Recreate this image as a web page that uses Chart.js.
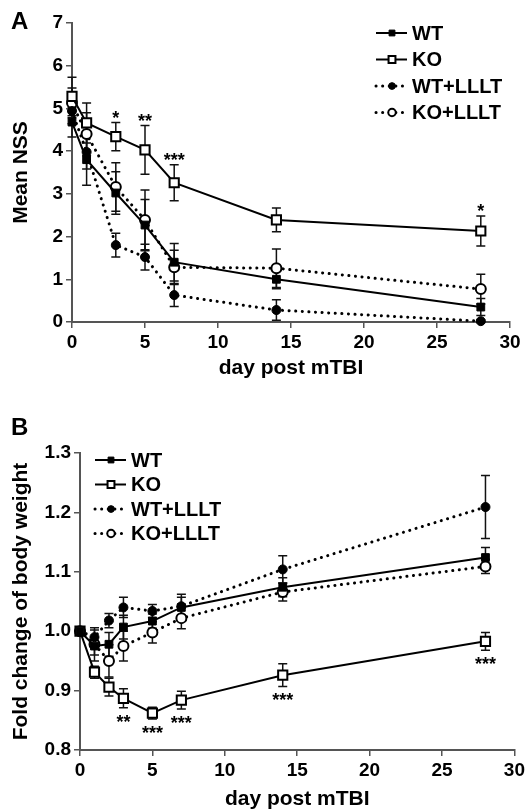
<!DOCTYPE html>
<html>
<head>
<meta charset="utf-8">
<script src="https://cdn.jsdelivr.net/npm/chart.js@4.4.1/dist/chart.umd.min.js"></script>
<style>
body{margin:0;background:#fff;}
#wrap{position:relative;width:528px;height:812px;}
#chartA{position:absolute;left:0;top:0;}
#chartB{position:absolute;left:0;top:400px;}
</style>
</head>
<body>
<div id="wrap">
<canvas id="chartA" width="528" height="400"></canvas>
<canvas id="chartB" width="528" height="412"></canvas>
</div>
<script>
var FONT = '"Liberation Sans", Arial, sans-serif';

// panel A: mean NSS
var daysA = [0, 1, 3, 5, 7, 14, 28];
var wtA      = [4.68, 3.8, 3.02, 2.27, 1.4, 1.0, 0.35];
var wtAErr   = [0.35, 0.6, 0.5, 0.6, 0.44, 0.22, 0.2];
var koA      = [5.28, 4.66, 4.34, 4.03, 3.26, 2.39, 2.13];
var koAErr   = [0.45, 0.47, 0.33, 0.57, 0.42, 0.28, 0.35];
var wtLA     = [4.94, 3.98, 1.8, 1.52, 0.63, 0.28, 0.02];
var wtLAErr  = [0.3, 0.4, 0.28, 0.3, 0.27, 0.24, 0.03];
var koLA     = [5.13, 4.4, 3.16, 2.39, 1.28, 1.26, 0.77];
var koLAErr  = [0.35, 0.5, 0.57, 0.7, 0.4, 0.45, 0.35];
var starDaysA = [3, 5, 7, 28];
var starTextA = ['*', '**', '***', '*'];
var yTicksA = [0, 1, 2, 3, 4, 5, 6, 7];

// panel B: fold change of body weight
var daysB = [0, 1, 2, 3, 5, 7, 14, 28];
var wtB      = [1.0, 0.975, 0.978, 1.007, 1.017, 1.04, 1.074, 1.124];
var wtBErr   = [0, 0.015, 0.02, 0.02, 0.012, 0.022, 0.016, 0.017];
var koB      = [1.0, 0.931, 0.906, 0.887, 0.862, 0.884, 0.926, 0.983];
var koBErr   = [0, 0.01, 0.015, 0.016, 0.01, 0.015, 0.019, 0.015];
var wtLB     = [1.0, 0.99, 1.018, 1.04, 1.034, 1.042, 1.104, 1.209];
var wtLBErr  = [0, 0.012, 0.012, 0.017, 0.011, 0.015, 0.023, 0.053];
var koLB     = [1.0, 0.978, 0.95, 0.975, 0.998, 1.022, 1.066, 1.109];
var koLBErr  = [0, 0.028, 0.027, 0.025, 0.018, 0.018, 0.015, 0.012];
var starDaysB = [3, 5, 7, 14, 28];
var starTextB = ['**', '***', '***', '***', '***'];

var xTicks = [0, 5, 10, 15, 20, 25, 30];
var groups = ['WT', 'KO', 'WT+LLLT', 'KO+LLLT'];

function series(label, days, vals, errs, filled, shape, dotted) {
    return {
        label: label,
        data: days.map(function (d, i) { return {x: d, y: vals[i]}; }),
        errors: errs,
        borderColor: '#000',
        borderWidth: dotted ? 3 : 2,
        borderDash: dotted ? [0.1, 6.5] : [],
        borderCapStyle: dotted ? 'round' : 'butt',
        pointStyle: shape,
        pointRadius: shape == 'rect' ? (filled ? 5.5 : 6.5) : (filled ? 4.5 : 5),
        pointBackgroundColor: filled ? '#000' : '#fff',
        pointBorderColor: '#000',
        pointBorderWidth: filled ? 1 : 2,
        pointHoverRadius: 0,
        tension: 0,
        clip: false
    };
}

var errorBars = {
    id: 'errorBars',
    beforeDatasetsDraw: function (chart) {
        var ctx = chart.ctx, xs = chart.scales.x, ys = chart.scales.y;
        ctx.save();
        ctx.strokeStyle = '#111';
        ctx.lineWidth = 1.5;
        chart.data.datasets.forEach(function (ds) {
            ds.data.forEach(function (p, i) {
                var e = ds.errors[i];
                if (!e) return;
                var x = xs.getPixelForValue(p.x);
                var y1 = ys.getPixelForValue(p.y + e), y2 = ys.getPixelForValue(p.y - e);
                ctx.beginPath();
                ctx.moveTo(x, y1); ctx.lineTo(x, y2);
                ctx.moveTo(x - 4.5, y1); ctx.lineTo(x + 4.5, y1);
                ctx.moveTo(x - 4.5, y2); ctx.lineTo(x + 4.5, y2);
                ctx.stroke();
            });
        });
        ctx.restore();
    }
};

var decorations = {
    id: 'decorations',
    afterDraw: function (chart, args, o) {
        var ctx = chart.ctx, xs = chart.scales.x, ys = chart.scales.y;
        ctx.save();
        ctx.fillStyle = '#000';
        ctx.textBaseline = 'middle';
        ctx.textAlign = 'left';
        ctx.font = 'bold 24px ' + FONT;
        ctx.fillText(o.letter, o.letterX, o.letterY);

        // legend: line + marker + label
        chart.data.datasets.forEach(function (ds, i) {
            var y = o.legY + i * o.legGap;
            ctx.strokeStyle = '#000';
            ctx.lineWidth = ds.borderWidth;
            ctx.setLineDash(ds.borderDash);
            ctx.lineCap = ds.borderCapStyle;
            ctx.beginPath();
            ctx.moveTo(o.legX, y);
            ctx.lineTo(o.legX + 31, y);
            ctx.stroke();
            ctx.setLineDash([]);
            ctx.lineCap = 'butt';
            ctx.fillStyle = ds.pointBackgroundColor;
            ctx.lineWidth = ds.pointBorderWidth;
            Chart.helpers.drawPoint(ctx, {pointStyle: ds.pointStyle, radius: ds.pointRadius * 0.75,
                borderWidth: ds.pointBorderWidth, rotation: 0}, o.legX + 16, y);
            ctx.fillStyle = '#000';
            ctx.font = 'bold 20px ' + FONT;
            ctx.fillText(ds.label, o.legX + 36, y + 1);
        });

        // significance stars on the KO series
        var ko = chart.data.datasets[1];
        ctx.textAlign = 'center';
        ctx.textBaseline = 'alphabetic';
        ctx.font = 'bold 18px ' + FONT;
        o.starDays.forEach(function (d, k) {
            var i = ko.data.findIndex(function (p) { return p.x == d; });
            var p = ko.data[i];
            var x = xs.getPixelForValue(p.x);
            var edge = ys.getPixelForValue(p.y + o.starDir * ko.errors[i]);
            var c = edge - o.starDir * o.starGap;
            ctx.fillText(o.starText[k], x, c + 10);
        });
        ctx.restore();
    }
};

function axes(yMin, yMax, yStep, yTitle, yFmt, xTitlePad, yWidth, xHeight) {
    var tickFont = {family: FONT, size: 19, weight: 'bold'};
    var titleFont = {family: FONT, size: 21, weight: 'bold'};
    return {
        x: {
            type: 'linear', min: 0, max: 30,
            afterBuildTicks: function (s) { s.ticks = xTicks.map(function (v) { return {value: v}; }); },
            afterFit: function (s) { s.height = xHeight; },
            ticks: {font: tickFont, color: '#000', padding: 3},
            grid: {drawOnChartArea: false, drawTicks: true, tickLength: 6, color: '#555', lineWidth: 1.5},
            border: {display: true, color: '#555', width: 2},
            title: {display: true, text: 'day post mTBI', font: titleFont, color: '#000',
                padding: {top: 0, bottom: xTitlePad}}
        },
        y: {
            type: 'linear', min: yMin, max: yMax,
            ticks: {stepSize: yStep, font: tickFont, color: '#000', padding: 3, callback: yFmt},
            afterFit: function (s) { s.width = yWidth; },
            grid: {drawOnChartArea: false, drawTicks: true, tickLength: 6, color: '#555', lineWidth: 1.5},
            border: {display: true, color: '#555', width: 2},
            title: {display: true, text: yTitle, font: titleFont, color: '#000',
                padding: {top: 9, bottom: 0}}
        }
    };
}

new Chart(document.getElementById('chartA'), {
    type: 'line',
    data: {
        datasets: [
            series(groups[0], daysA, wtA, wtAErr, true, 'rect', false),
            series(groups[1], daysA, koA, koAErr, false, 'rect', false),
            series(groups[2], daysA, wtLA, wtLAErr, true, 'circle', true),
            series(groups[3], daysA, koLA, koLAErr, false, 'circle', true)
        ]
    },
    options: {
        responsive: false,
        animation: false,
        devicePixelRatio: 1,
        layout: {padding: {left: 0, right: 18, top: 23, bottom: 0}},
        scales: axes(yTicksA[0], yTicksA[yTicksA.length - 1], 1, 'Mean NSS',
            function (v) { return v; }, 19, 72, 78),
        plugins: {
            legend: {display: false},
            tooltip: {enabled: false},
            decorations: {letter: 'A', letterX: 11, letterY: 22, legX: 376, legY: 33, legGap: 26.5,
                starDays: starDaysA, starText: starTextA, starDir: 1, starGap: 9}
        }
    },
    plugins: [errorBars, decorations]
});

new Chart(document.getElementById('chartB'), {
    type: 'line',
    data: {
        datasets: [
            series(groups[0], daysB, wtB, wtBErr, true, 'rect', false),
            series(groups[1], daysB, koB, koBErr, false, 'rect', false),
            series(groups[2], daysB, wtLB, wtLBErr, true, 'circle', true),
            series(groups[3], daysB, koLB, koLBErr, false, 'circle', true)
        ]
    },
    options: {
        responsive: false,
        animation: false,
        devicePixelRatio: 1,
        layout: {padding: {left: 0, right: 11, top: 53, bottom: 0}},
        scales: axes(0.8, 1.3, 0.1, 'Fold change of body weight',
            function (v) { return v.toFixed(1); }, 0, 80, 62),
        plugins: {
            legend: {display: false},
            tooltip: {enabled: false},
            decorations: {letter: 'B', letterX: 11, letterY: 28, legX: 95, legY: 60, legGap: 24.5,
                starDays: starDaysB, starText: starTextB, starDir: -1, starGap: 10}
        }
    },
    plugins: [errorBars, decorations]
});
</script>
</body>
</html>
